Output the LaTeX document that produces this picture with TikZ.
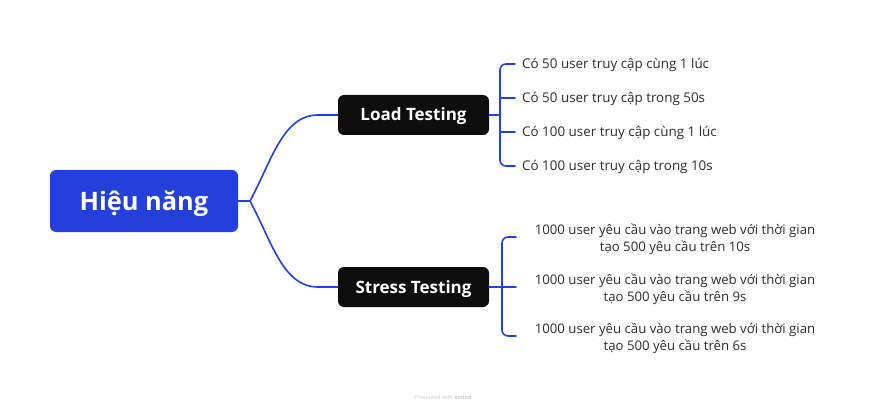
\documentclass[tikz,border=0pt]{standalone}
\usepackage{fontspec}
\setmainfont{Open Sans}
\definecolor{mblue}{HTML}{2340DA}
\definecolor{mblack}{HTML}{0E0E0E}
\definecolor{ctext}{HTML}{2B2B2B}
\begin{document}
\begin{tikzpicture}[x=1pt,y=-1pt,
  mainbox/.style={fill=mblue,rounded corners=6pt,text=white,font=\fontsize{25.4}{30}\selectfont\bfseries,minimum width=188pt,minimum height=62pt,inner sep=0pt,text height=18pt,text depth=0pt},
  subbox/.style={fill=mblack,rounded corners=6pt,text=white,font=\fontsize{17}{20}\selectfont\bfseries,minimum width=151pt,minimum height=40pt,inner sep=0pt,text height=12pt,text depth=0pt},
  leaf/.style={text=ctext,font=\fontsize{13.4}{16}\selectfont,inner sep=0pt,anchor=base west},
  leaf2/.style={text=ctext,font=\fontsize{13.2}{16.5}\selectfont,inner sep=0pt,align=center},
  conn/.style={draw=mblue,line width=1.6pt,line cap=round,line join=round}]
\useasboundingbox (0,0) rectangle (886,409);
\node[mainbox] (main) at (144,201) {Hiệu năng};
\node[subbox] (lt) at (413.5,115) {Load Testing};
\node[subbox] (st) at (413.5,287) {Stress Testing};
% main connectors
\draw[conn] (250,201) -- (main.east);
\draw[conn] (250,201) .. controls (272,160) and (283,115) .. (318,115) -- (lt.west);
\draw[conn] (250,201) .. controls (272,242) and (283,287) .. (318,287) -- (st.west);
% load children
\node[leaf] (l1) at (522,68.5) {Có 50 user truy cập cùng 1 lúc};
\node[leaf] (l2) at (522,102.5) {Có 50 user truy cập trong 50s};
\node[leaf] (l3) at (522,136.5) {Có 100 user truy cập cùng 1 lúc};
\node[leaf] (l4) at (522,170.5) {Có 100 user truy cập trong 10s};
\coordinate (a1) at (515,64);
\coordinate (a2) at (515,98);
\coordinate (a3) at (515,132);
\coordinate (a4) at (515,166);
\draw[conn] (lt.east) -- (500,115);
\draw[conn,rounded corners=6pt] (a1) -- (500,64) -- (500,166) -- (a4);
\draw[conn] (500,98) -- (a2);
\draw[conn] (500,132) -- (a3);
% stress children
\node[leaf2] (s1) at (675,239) {1000 user yêu cầu vào trang web với thời gian\\tạo 500 yêu cầu trên 10s};
\node[leaf2] (s2) at (675,289) {1000 user yêu cầu vào trang web với thời gian\\tạo 500 yêu cầu trên 9s};
\node[leaf2] (s3) at (675,338) {1000 user yêu cầu vào trang web với thời gian\\tạo 500 yêu cầu trên 6s};
\coordinate (t1) at (516,237);
\coordinate (t2) at (516,287);
\coordinate (t3) at (516,336);
\draw[conn] (st.east) -- (t2);
\draw[conn,rounded corners=6pt] (t1) -- (502,237) -- (502,336) -- (t3);
% footer
\node[text=black!22,font=\fontsize{5.5}{6}\selectfont,inner sep=0pt] (foot) at (443,397) {Presented with \textbf{xmind}};
\end{tikzpicture}
\end{document}
